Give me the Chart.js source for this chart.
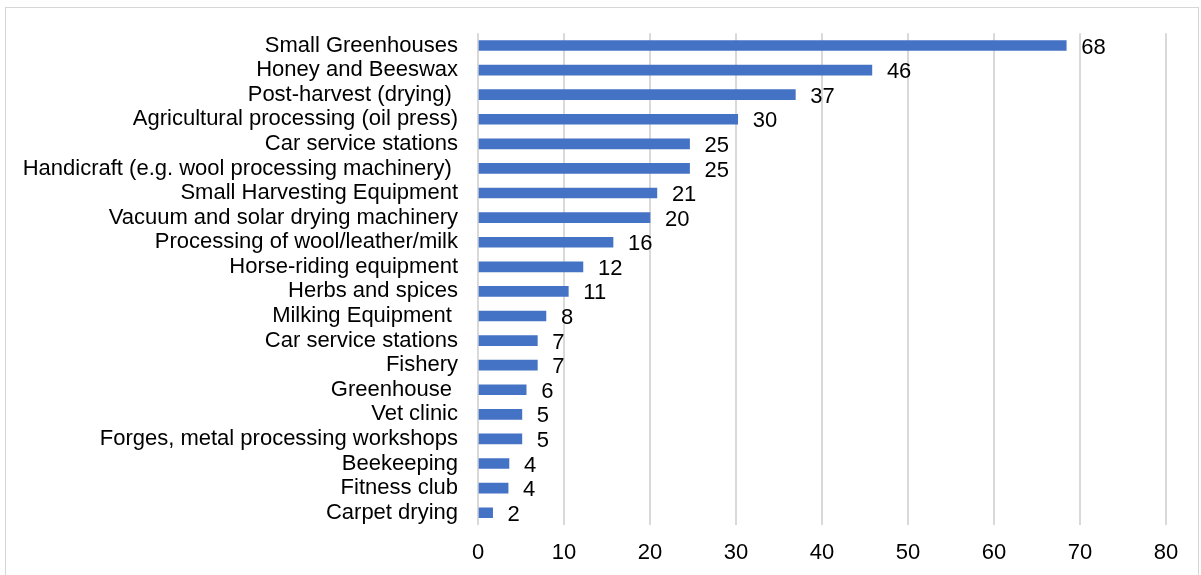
<!DOCTYPE html>
<html>
<head>
<meta charset="utf-8">
<script src="https://cdn.jsdelivr.net/npm/chart.js@4/dist/chart.umd.min.js"></script>
<style>
  html, body { margin: 0; padding: 0; background: #fff; overflow: hidden; }
  #frame { position: absolute; left: 5px; top: 7px; width: 1192px; height: 600px; border: 1px solid #d6d6d6; }
  #barChart { position: absolute; left: 0; top: 0; }
</style>
</head>
<body>
<div id="frame"></div>
<canvas id="barChart" width="1201" height="575"></canvas>
<script>
// DATA
const categories = [
  'Small Greenhouses', 'Honey and Beeswax', 'Post-harvest (drying) ',
  'Agricultural processing (oil press)', 'Car service stations',
  'Handicraft (e.g. wool processing machinery) ', 'Small Harvesting Equipment',
  'Vacuum and solar drying machinery', 'Processing of wool/leather/milk',
  'Horse-riding equipment', 'Herbs and spices', 'Milking Equipment ',
  'Car service stations', 'Fishery', 'Greenhouse ', 'Vet clinic',
  'Forges, metal processing workshops', 'Beekeeping', 'Fitness club', 'Carpet drying'
];
const values = [68.4, 45.8, 36.9, 30.2, 24.6, 24.6, 20.8, 20.0, 15.7, 12.2,
                10.5, 7.9, 6.9, 6.9, 5.6, 5.1, 5.1, 3.6, 3.5, 1.7];
const xTicks = [0, 10, 20, 30, 40, 50, 60, 70, 80];

const FONT = '"Liberation Sans", Arial, sans-serif';

// value labels at bar ends
const barLabels = {
  id: 'barLabels',
  afterDatasetsDraw(chart) {
    const ctx = chart.ctx;
    const meta = chart.getDatasetMeta(0);
    ctx.save();
    ctx.font = '22px ' + FONT;
    ctx.fillStyle = '#000';
    ctx.textBaseline = 'middle';
    ctx.textAlign = 'left';
    meta.data.forEach((bar, i) => {
      ctx.fillText(String(Math.round(values[i])), bar.x + 15, bar.y + 2);
    });
    ctx.restore();
  }
};

new Chart(document.getElementById('barChart'), {
  type: 'bar',
  data: {
    labels: categories,
    datasets: [{
      data: values,
      backgroundColor: '#4472C4',
      barThickness: 10
    }]
  },
  options: {
    indexAxis: 'y',
    responsive: false,
    animation: false,
    layout: { padding: { left: 0, right: 35, top: 33, bottom: 0 } },
    plugins: { legend: { display: false }, tooltip: { enabled: false } },
    scales: {
      x: {
        min: 0, max: 80,
        afterBuildTicks: (scale) => { scale.ticks = xTicks.map(v => ({ value: v })); },
        afterFit: (scale) => { scale.height = 50; },
        grid: { color: '#d9d9d9', lineWidth: 2, drawTicks: false },
        border: { display: false },
        ticks: {
          padding: 15,
          color: '#000',
          font: { family: FONT, size: 22 }
        }
      },
      y: {
        afterFit: (scale) => { scale.width = 478; },
        grid: { display: false, drawTicks: false },
        border: { display: false },
        ticks: {
          padding: 20,
          color: '#000',
          autoSkip: false,
          font: { family: FONT, size: 22 }
        }
      }
    }
  },
  plugins: [barLabels]
});
</script>
</body>
</html>
